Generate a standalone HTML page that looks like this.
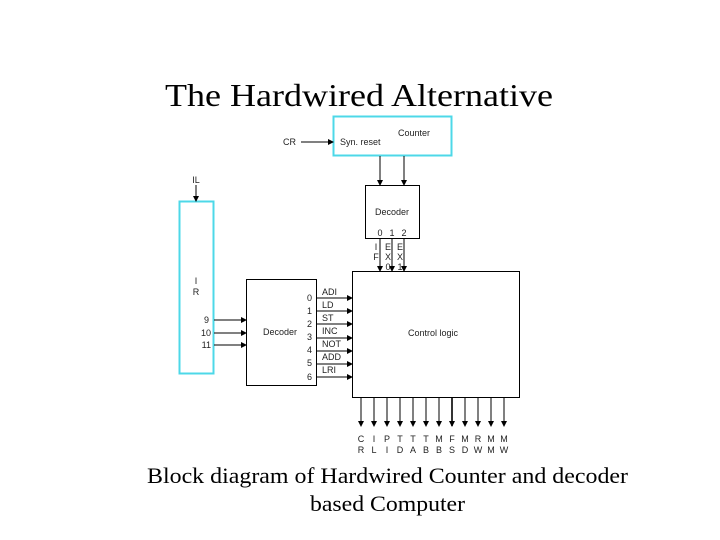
<!DOCTYPE html>
<html><head><style>
html,body{margin:0;padding:0;background:#fff;}
svg{display:block;}
.s{font-family:"Liberation Sans",sans-serif;font-size:9px;fill:#222;}
.t{font-family:"Liberation Serif",serif;fill:#000;}
</style></head><body>
<svg width="720" height="540" viewBox="0 0 720 540" xmlns="http://www.w3.org/2000/svg">
<defs><marker id="a" markerWidth="6" markerHeight="6" refX="5" refY="3" orient="auto" markerUnits="userSpaceOnUse"><path d="M0,0 L6,3 L0,6 z" fill="#000"/></marker></defs>
<text class="t" x="165" y="106" font-size="32" textLength="388" lengthAdjust="spacingAndGlyphs">The Hardwired Alternative</text>
<!-- Counter -->
<rect x="333.5" y="116.5" width="118" height="39" fill="none" stroke="#4dd8e8" stroke-width="2"/>
<text class="s" x="414" y="136" text-anchor="middle">Counter</text>
<text class="s" x="340" y="145">Syn. reset</text>
<text class="s" x="283" y="145">CR</text>
<line x1="301" y1="142" x2="333" y2="142" stroke="#000" marker-end="url(#a)"/>
<line x1="380" y1="156" x2="380" y2="185" stroke="#000" marker-end="url(#a)"/>
<line x1="404" y1="156" x2="404" y2="185" stroke="#000" marker-end="url(#a)"/>
<!-- top decoder -->
<rect x="365.5" y="185.5" width="54" height="53" fill="none" stroke="#000"/>
<text class="s" x="392" y="215" text-anchor="middle">Decoder</text>
<text class="s" x="380" y="236" text-anchor="middle">0</text>
<text class="s" x="392" y="236" text-anchor="middle">1</text>
<text class="s" x="404" y="236" text-anchor="middle">2</text>
<line x1="380" y1="238" x2="380" y2="271" stroke="#000" marker-end="url(#a)"/>
<line x1="392" y1="238" x2="392" y2="271" stroke="#000" marker-end="url(#a)"/>
<line x1="404" y1="238" x2="404" y2="271" stroke="#000" marker-end="url(#a)"/>
<g class="s" text-anchor="middle">
<text x="376" y="250">I</text><text x="376" y="260">F</text>
<text x="388" y="250">E</text><text x="388" y="260">X</text><text x="388" y="270">0</text>
<text x="400" y="250">E</text><text x="400" y="260">X</text><text x="400" y="270">1</text>
</g>
<!-- control logic -->
<rect x="352.5" y="271.5" width="167" height="126" fill="none" stroke="#000"/>
<text class="s" x="433" y="336" text-anchor="middle">Control logic</text>
<!-- IR -->
<rect x="179.5" y="201.5" width="34" height="172" fill="none" stroke="#4dd8e8" stroke-width="2"/>
<text class="s" x="196" y="183" text-anchor="middle">IL</text>
<line x1="196" y1="185" x2="196" y2="201" stroke="#000" marker-end="url(#a)"/>
<text class="s" x="196" y="284" text-anchor="middle">I</text>
<text class="s" x="196" y="295" text-anchor="middle">R</text>
<text class="s" x="209" y="323" text-anchor="end">9</text>
<text class="s" x="211" y="336" text-anchor="end">10</text>
<text class="s" x="211" y="348" text-anchor="end">11</text>
<line x1="214" y1="320" x2="246" y2="320" stroke="#000" marker-end="url(#a)"/>
<line x1="214" y1="333" x2="246" y2="333" stroke="#000" marker-end="url(#a)"/>
<line x1="214" y1="345" x2="246" y2="345" stroke="#000" marker-end="url(#a)"/>
<!-- left decoder -->
<rect x="246.5" y="279.5" width="70" height="106" fill="none" stroke="#000"/>
<text class="s" x="280" y="335" text-anchor="middle">Decoder</text>
<g class="s">
<text x="307" y="301">0</text><text x="307" y="314">1</text><text x="307" y="327">2</text><text x="307" y="340">3</text><text x="307" y="353">4</text><text x="307" y="366">5</text><text x="307" y="380">6</text>
<text x="322" y="295">ADI</text><text x="322" y="308">LD</text><text x="322" y="321">ST</text><text x="322" y="334">INC</text><text x="322" y="347">NOT</text><text x="322" y="360">ADD</text><text x="322" y="373">LRI</text>
</g>
<g stroke="#000">
<line x1="317" y1="298" x2="352" y2="298" marker-end="url(#a)"/>
<line x1="317" y1="311" x2="352" y2="311" marker-end="url(#a)"/>
<line x1="317" y1="324" x2="352" y2="324" marker-end="url(#a)"/>
<line x1="317" y1="338" x2="352" y2="338" marker-end="url(#a)"/>
<line x1="317" y1="351" x2="352" y2="351" marker-end="url(#a)"/>
<line x1="317" y1="364" x2="352" y2="364" marker-end="url(#a)"/>
<line x1="317" y1="377" x2="352" y2="377" marker-end="url(#a)"/>
</g>
<!-- bottom outputs -->
<g stroke="#000">
<line x1="361" y1="398" x2="361" y2="426" marker-end="url(#a)"/>
<line x1="374" y1="398" x2="374" y2="426" marker-end="url(#a)"/>
<line x1="387" y1="398" x2="387" y2="426" marker-end="url(#a)"/>
<line x1="400" y1="398" x2="400" y2="426" marker-end="url(#a)"/>
<line x1="413" y1="398" x2="413" y2="426" marker-end="url(#a)"/>
<line x1="426" y1="398" x2="426" y2="426" marker-end="url(#a)"/>
<line x1="439" y1="398" x2="439" y2="426" marker-end="url(#a)"/>
<line x1="452" y1="398" x2="452" y2="426" stroke-width="1.6" marker-end="url(#a)"/>
<line x1="465" y1="398" x2="465" y2="426" marker-end="url(#a)"/>
<line x1="478" y1="398" x2="478" y2="426" marker-end="url(#a)"/>
<line x1="491" y1="398" x2="491" y2="426" marker-end="url(#a)"/>
<line x1="504" y1="398" x2="504" y2="426" marker-end="url(#a)"/>
</g>
<g class="s" text-anchor="middle">
<text x="361" y="442">C</text><text x="361" y="453">R</text>
<text x="374" y="442">I</text><text x="374" y="453">L</text>
<text x="387" y="442">P</text><text x="387" y="453">I</text>
<text x="400" y="442">T</text><text x="400" y="453">D</text>
<text x="413" y="442">T</text><text x="413" y="453">A</text>
<text x="426" y="442">T</text><text x="426" y="453">B</text>
<text x="439" y="442">M</text><text x="439" y="453">B</text>
<text x="452" y="442">F</text><text x="452" y="453">S</text>
<text x="465" y="442">M</text><text x="465" y="453">D</text>
<text x="478" y="442">R</text><text x="478" y="453">W</text>
<text x="491" y="442">M</text><text x="491" y="453">M</text>
<text x="504" y="442">M</text><text x="504" y="453">W</text>
</g>
<text class="t" x="147" y="483" font-size="22" textLength="481" lengthAdjust="spacingAndGlyphs">Block diagram of Hardwired Counter and decoder</text>
<text class="t" x="310" y="511" font-size="22" textLength="155" lengthAdjust="spacingAndGlyphs">based Computer</text>
</svg>
</body></html>
